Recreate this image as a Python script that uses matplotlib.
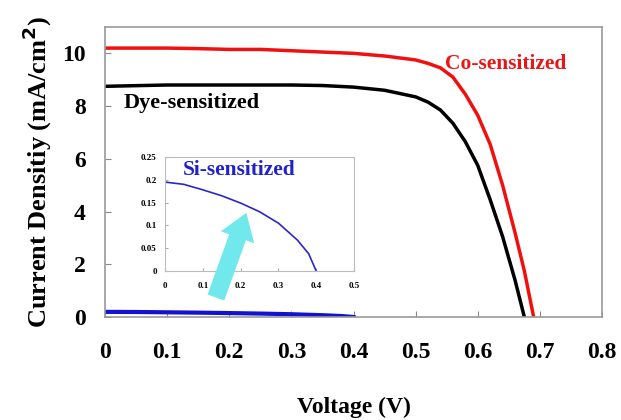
import numpy as np
import matplotlib
matplotlib.use('Agg')
import matplotlib.pyplot as plt

plt.rcParams['font.family'] = ['Liberation Serif', 'DejaVu Serif']
plt.rcParams['font.weight'] = 'bold'

# J-V curves (V in volts, J in mA/cm2)
co_v = [0, 0.05, 0.1, 0.15, 0.2, 0.25, 0.3, 0.35, 0.4, 0.45, 0.5, 0.52, 0.54,
        0.56, 0.58, 0.6, 0.62, 0.64, 0.66, 0.675, 0.69]
co_j = [10.2, 10.2, 10.2, 10.18, 10.15, 10.15, 10.1, 10.05, 10.0, 9.9, 9.75,
        9.62, 9.45, 9.1, 8.45, 7.65, 6.55, 5.0, 3.2, 1.75, 0.0]

dye_v = [0, 0.1, 0.2, 0.3, 0.35, 0.4, 0.45, 0.5, 0.52, 0.54, 0.56, 0.58,
         0.6, 0.62, 0.64, 0.66, 0.675]
dye_j = [8.75, 8.8, 8.8, 8.8, 8.78, 8.72, 8.6, 8.35, 8.15, 7.85, 7.35, 6.65,
         5.75, 4.45, 3.05, 1.4, 0.0]

si_v = [0, 0.05, 0.1, 0.15, 0.2, 0.25, 0.3, 0.35, 0.38, 0.4]
si_j = [0.195, 0.19, 0.178, 0.165, 0.149, 0.13, 0.105, 0.068, 0.038, 0.0]

xticks = [0, 0.1, 0.2, 0.3, 0.4, 0.5, 0.6, 0.7, 0.8]
yticks = [0, 2, 4, 6, 8, 10]
inset_xticks = [0, 0.1, 0.2, 0.3, 0.4, 0.5]
inset_yticks = [0, 0.05, 0.1, 0.15, 0.2, 0.25]

fig = plt.figure(figsize=(6.21, 4.20), dpi=100)
ax = fig.add_axes([105/621, 1-317/420, 497/621, 290/420])

ax.plot(co_v, co_j, color='#f01010', lw=2.5)
ax.plot(dye_v, dye_j, color='black', lw=2.5)
ax.plot(si_v, si_j, color='#1212d0', lw=3)

ax.set_xlim(0, 0.8)
ax.set_ylim(0, 11)
ax.set_xticks(xticks)
ax.set_xticklabels(['0', '0.1', '0.2', '0.3', '0.4', '0.5', '0.6', '0.7', '0.8'])
ax.set_yticks(yticks)
ax.tick_params(direction='in', length=4, color='#888888', labelsize=17, pad=18)
ax.tick_params(axis='y', pad=14)
for s in ax.spines.values():
    s.set_color('#999999')
    s.set_linewidth(1.2)
ax.set_xlabel('Voltage (V)', fontsize=17, fontweight='bold', labelpad=24)
ax.set_ylabel('Current Densitiy (mA/cm$^\\mathbf{2}$)', fontsize=19, fontweight='bold', labelpad=6)

ax.text(0.548, 9.6, 'Co-sensitized', color='#e81818', fontsize=15.5, fontweight='bold', va='center')
ax.text(0.03, 8.1, 'Dye-sensitized', color='black', fontsize=16, fontweight='bold', va='center')

# inset with the Si-sensitized curve
ins = fig.add_axes([165/621, 1-271/420, 189/621, 114/420])
ins.plot(si_v, si_j, color='#2828c8', lw=1.2)
ins.set_xlim(0, 0.5)
ins.set_ylim(0, 0.25)
ins.set_xticks(inset_xticks)
ins.set_xticklabels(['0', '0.1', '0.2', '0.3', '0.4', '0.5'])
ins.set_yticks(inset_yticks)
ins.set_yticklabels(['0', '0.05', '0.1', '0.15', '0.2', '0.25'])
ins.tick_params(direction='in', length=2, color='#aaaaaa', labelsize=6.5, pad=8)
ins.tick_params(axis='y', pad=6)
for s in ins.spines.values():
    s.set_color('#bbbbbb')
    s.set_linewidth(0.8)
ins.text(0.048, 0.2, 'Si-sensitized', color='#2222cc', fontsize=15.5, fontweight='bold', va='bottom')

ins.annotate('', xy=(0.229, 4.05), xycoords=ax.transData,
             xytext=(0.177, 0.64), textcoords=ax.transData,
             arrowprops=dict(arrowstyle='simple,head_width=1.5,head_length=1.1,tail_width=0.75',
                             color='#70e8ec', lw=0, mutation_scale=17),
             annotation_clip=False)

fig.savefig('out.png', dpi=100)
